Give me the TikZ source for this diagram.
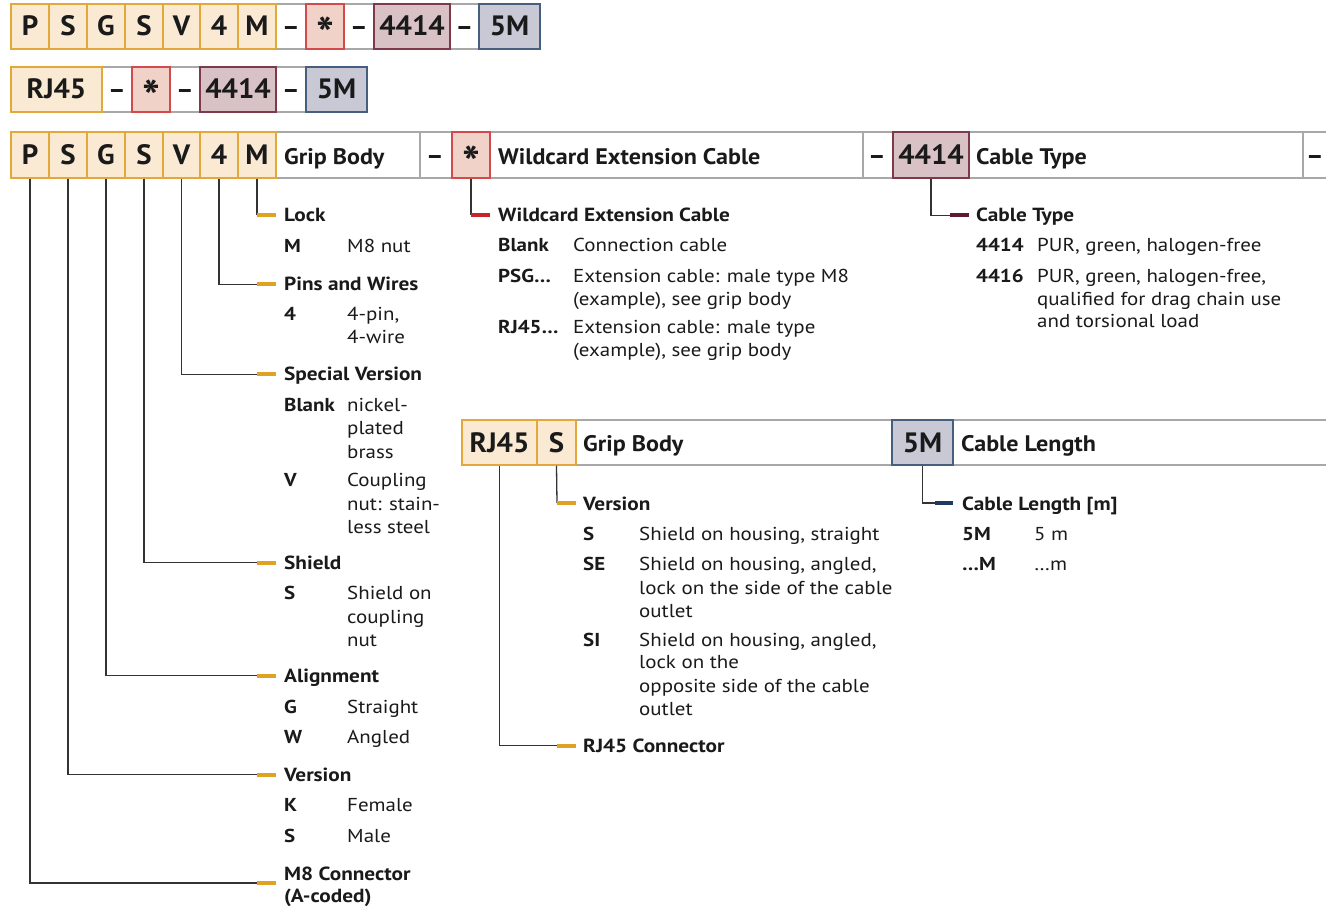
\documentclass[tikz,border=0pt]{standalone}
\usepackage{fontspec}
\setmainfont{PT Sans}
\newfontfamily\fhead{PT Sans}[FakeStretch=1.07]
\newfontfamily\fbody{PT Sans}[FakeStretch=1.12]
\newfontfamily\fcode{PT Sans}[FakeStretch=1.03]
\definecolor{goldB}{HTML}{E3A83A}
\definecolor{goldF}{HTML}{FAEAD4}
\definecolor{redB}{HTML}{D44A4A}
\definecolor{redF}{HTML}{F1D2C8}
\definecolor{mauveB}{HTML}{7E3A4A}
\definecolor{mauveF}{HTML}{D8C2C5}
\definecolor{blueB}{HTML}{475F7E}
\definecolor{blueF}{HTML}{C8C9D5}
\definecolor{cellgray}{HTML}{A8A8A8}
\definecolor{connc}{HTML}{333333}
\definecolor{tkGold}{HTML}{E0A224}
\definecolor{tkRed}{HTML}{C8222A}
\definecolor{tkMaroon}{HTML}{5E1A2E}
\definecolor{tkNavy}{HTML}{1E3A5C}
\definecolor{txt}{HTML}{1A1A1A}
\newcommand{\Tx}[5]{\node[#1] (#2) at (#3,#4) {#5};}
\newcommand{\Ast}{\raisebox{-15pt}{\fontsize{46}{46}\selectfont *}}
\begin{document}
\begin{tikzpicture}[x=1pt,y=-1pt,
  cell/.style={draw=cellgray, fill=white, line width=1.3, inner sep=0, minimum height=46},
  codebox/.style={line width=1.5, inner sep=0, text height=19, text depth=0, font=\fcode\bfseries\fontsize{28}{30}\selectfont, text=txt},
  ybox/.style={codebox, draw=goldB, fill=goldF},
  rbox/.style={codebox, draw=redB, fill=redF},
  mbox/.style={codebox, draw=mauveB, fill=mauveF},
  bbox/.style={codebox, draw=blueB, fill=blueF},
  dashtx/.style={inner sep=0, text height=19, text depth=0, font=\fcode\bfseries\fontsize{26}{28}\selectfont, text=txt},
  head/.style={anchor=base west, inner sep=0, font=\fhead\bfseries\fontsize{22.5}{26}\selectfont, text=txt},
  lab/.style={anchor=base west, inner sep=0, font=\fbody\bfseries\fontsize{19}{23}\selectfont, text=txt},
  code/.style={anchor=base west, inner sep=0, font=\fbody\bfseries\fontsize{18.7}{23}\selectfont, text=txt},
  desc/.style={anchor=base west, inner sep=0, font=\fbody\fontsize{18.7}{23}\selectfont, text=txt},
  conn/.style={draw=connc, line width=1.3},
  tkY/.style={draw=tkGold, line width=4},
  tkR/.style={draw=tkRed, line width=4},
  tkM/.style={draw=tkMaroon, line width=4},
  tkN/.style={draw=tkNavy, line width=4},
]
\useasboundingbox (0,0) rectangle (1326,909);
\fill[white] (0,0) rectangle (1326,909);

% ---------- Row 1 ----------
\node[cell, minimum width=529, minimum height=45] (r1bg) at (275.5,26.5) {};
\node[dashtx] (r1d1) at (291,26.5) {–};
\node[dashtx] (r1d2) at (359,26.5) {–};
\node[dashtx] (r1d3) at (464.5,26.5) {–};
\node[ybox, minimum width=38, minimum height=45] (r1a) at (30,26.5) {P};
\node[ybox, minimum width=38, minimum height=45] (r1b) at (68,26.5) {S};
\node[ybox, minimum width=38, minimum height=45] (r1c) at (106,26.5) {G};
\node[ybox, minimum width=38, minimum height=45] (r1d) at (144,26.5) {S};
\node[ybox, minimum width=37, minimum height=45] (r1e) at (181.5,26.5) {V};
\node[ybox, minimum width=38, minimum height=45] (r1f) at (219,26.5) {4};
\node[ybox, minimum width=38, minimum height=45] (r1g) at (257,26.5) {M};
\node[rbox, minimum width=38, minimum height=45] (r1s) at (325,26.5) {\Ast};
\node[mbox, minimum width=76, minimum height=45] (r1t) at (412,26.5) {4414};
\node[bbox, minimum width=61, minimum height=45] (r1l) at (509.5,26.5) {5M};

% ---------- Row 2 ----------
\node[cell, minimum width=356, minimum height=45] (r2bg) at (189,89.5) {};
\node[dashtx] (r2d1) at (117,89.5) {–};
\node[dashtx] (r2d2) at (185,89.5) {–};
\node[dashtx] (r2d3) at (291,89.5) {–};
\node[ybox, minimum width=91, minimum height=45] (r2a) at (56.5,89.5) {RJ45};
\node[rbox, minimum width=38, minimum height=45] (r2s) at (151,89.5) {\Ast};
\node[mbox, minimum width=76, minimum height=45] (r2t) at (238,89.5) {4414};
\node[bbox, minimum width=61, minimum height=45] (r2l) at (336.5,89.5) {5M};

% ---------- Row 3 (M8 header) ----------
\node[cell, minimum width=144] (c3gb) at (348,155) {};
\node[cell, minimum width=32] (c3d1) at (436,155) {};
\node[cell, minimum width=373] (c3wc) at (676.5,155) {};
\node[cell, minimum width=30] (c3d2) at (878,155) {};
\node[cell, minimum width=334] (c3ct) at (1136,155) {};
\node[cell, minimum width=37] (c3d3) at (1321.5,155) {};
\node[ybox, minimum width=38, minimum height=46] (h3a) at (30,155) {P};
\node[ybox, minimum width=38, minimum height=46] (h3b) at (68,155) {S};
\node[ybox, minimum width=38, minimum height=46] (h3c) at (106,155) {G};
\node[ybox, minimum width=38, minimum height=46] (h3d) at (144,155) {S};
\node[ybox, minimum width=37, minimum height=46] (h3e) at (181.5,155) {V};
\node[ybox, minimum width=38, minimum height=46] (h3f) at (219,155) {4};
\node[ybox, minimum width=38, minimum height=46] (h3g) at (257,155) {M};
\node[rbox, minimum width=38, minimum height=46] (h3s) at (471,155) {\Ast};
\node[mbox, minimum width=76, minimum height=46] (h3t) at (931,155) {4414};
\node[head] (h3gbt) at (284,165) {Grip Body};
\node[dashtx] (h3d1t) at (435,155) {–};
\node[head] (h3wct) at (498,165) {Wildcard Extension Cable};
\node[dashtx] (h3d2t) at (877,155) {–};
\node[head] (h3ctt) at (976,165) {Cable Type};
\node[dashtx] (h3d3t) at (1315,155) {–};

% ---------- RJ45 header ----------
\node[cell, minimum width=316, minimum height=45] (c4gb) at (734,442.5) {};
\node[cell, minimum width=387, minimum height=45] (c4cl) at (1146.5,442.5) {};
\node[ybox, minimum width=75, minimum height=45] (h4a) at (499.5,442.5) {RJ45};
\node[ybox, minimum width=39, minimum height=45] (h4b) at (556.5,442.5) {S};
\node[bbox, minimum width=61, minimum height=45] (h4l) at (922.5,442.5) {5M};
\node[head] (h4gbt) at (583,451) {Grip Body};
\node[head] (h4clt) at (961,451) {Cable Length};

% ---------- Left column (M8) ----------
\coordinate (tMa) at (257,215.5); \coordinate (tMb) at (276,215.5);
\coordinate (t4a) at (257,284.5); \coordinate (t4b) at (276,284.5);
\coordinate (tVa) at (257,374.5); \coordinate (tVb) at (276,374.5);
\coordinate (tSa) at (257,562.5); \coordinate (tSb) at (276,562.5);
\coordinate (tGa) at (257,675.5); \coordinate (tGb) at (276,675.5);
\coordinate (tKa) at (257,774.5); \coordinate (tKb) at (276,774.5);
\coordinate (tPa) at (257,883);   \coordinate (tPb) at (276,883);
\draw[conn] (h3g.south) -- (tMa);
\draw[conn] (h3f.south) |- (t4a);
\draw[conn] (h3e.south) |- (tVa);
\draw[conn] (h3d.south) |- (tSa);
\draw[conn] (h3c.south) |- (tGa);
\draw[conn] (h3b.south) |- (tKa);
\draw[conn] (h3a.south) |- (tPa);
\foreach \n in {M,4,V,S,G,K,P} {\draw[tkY] (t\n a) -- (t\n b);}

\Tx{lab}{l1}{284}{222}{Lock}
\Tx{code}{l1c1}{284}{253}{M}
\Tx{desc}{l1d1}{347}{253}{M8 nut}
\Tx{lab}{l2}{284}{291}{Pins and Wires}
\Tx{code}{l2c1}{284}{321}{4}
\Tx{desc}{l2d1}{347}{321}{4-pin,}
\Tx{desc}{l2d2}{347}{344}{4-wire}
\Tx{lab}{l3}{284}{381}{Special Version}
\Tx{code}{l3c1}{284}{411}{Blank}
\Tx{desc}{l3d1}{347}{411}{nickel-}
\Tx{desc}{l3d2}{347}{435}{plated}
\Tx{desc}{l3d3}{347}{458}{brass}
\Tx{code}{l3c2}{284}{486}{V}
\Tx{desc}{l3d4}{347}{486}{Coupling}
\Tx{desc}{l3d5}{347}{510}{nut: stain-}
\Tx{desc}{l3d6}{347}{533}{less steel}
\Tx{lab}{l4}{284}{569}{Shield}
\Tx{code}{l4c1}{284}{599}{S}
\Tx{desc}{l4d1}{347}{599}{Shield on}
\Tx{desc}{l4d2}{347}{623}{coupling}
\Tx{desc}{l4d3}{347}{646}{nut}
\Tx{lab}{l5}{284}{682}{Alignment}
\Tx{code}{l5c1}{284}{713}{G}
\Tx{desc}{l5d1}{347}{713}{Straight}
\Tx{code}{l5c2}{284}{743}{W}
\Tx{desc}{l5d2}{347}{743}{Angled}
\Tx{lab}{l6}{284}{781}{Version}
\Tx{code}{l6c1}{284}{811}{K}
\Tx{desc}{l6d1}{347}{811}{Female}
\Tx{code}{l6c2}{284}{842}{S}
\Tx{desc}{l6d2}{347}{842}{Male}
\Tx{lab}{l7}{284}{880}{M8 Connector}
\Tx{lab}{l7b}{284}{902}{(A-coded)}

% ---------- Wildcard column ----------
\coordinate (tWa) at (471,215.5); \coordinate (tWb) at (490,215.5);
\draw[conn] (h3s.south) -- (tWa);
\draw[tkR] (tWa) -- (tWb);
\Tx{lab}{w1}{498}{222}{Wildcard Extension Cable}
\Tx{code}{w1c1}{498}{252}{Blank}
\Tx{desc}{w1d1}{573}{252}{Connection cable}
\Tx{code}{w1c2}{498}{283}{PSG…}
\Tx{desc}{w1d2}{573}{283}{Extension cable: male type M8}
\Tx{desc}{w1d3}{573}{305.5}{(example), see grip body}
\Tx{code}{w1c3}{498}{334}{RJ45…}
\Tx{desc}{w1d4}{573}{334}{Extension cable: male type}
\Tx{desc}{w1d5}{573}{357}{(example), see grip body}

% ---------- Cable type column ----------
\coordinate (tTa) at (950,215.5); \coordinate (tTb) at (969,215.5);
\draw[conn] (h3t.south) |- (tTa);
\draw[tkM] (tTa) -- (tTb);
\Tx{lab}{ct1}{976}{222}{Cable Type}
\Tx{code}{ct1c1}{976}{252}{4414}
\Tx{desc}{ct1d1}{1037}{252}{PUR, green, halogen-free}
\Tx{code}{ct1c2}{976}{283}{4416}
\Tx{desc}{ct1d2}{1037}{283}{PUR, green, halogen-free,}
\Tx{desc}{ct1d3}{1037}{305.5}{qualified for drag chain use}
\Tx{desc}{ct1d4}{1037}{328}{and torsional load}

% ---------- RJ45 columns ----------
\coordinate (tRVa) at (557,503); \coordinate (tRVb) at (576,503);
\coordinate (tRCa) at (557,745.5); \coordinate (tRCb) at (576,745.5);
\draw[conn] (h4b.south) -- (tRVa);
\draw[conn] (h4a.south) |- (tRCa);
\draw[tkY] (tRVa) -- (tRVb);
\draw[tkY] (tRCa) -- (tRCb);
\Tx{lab}{rv}{583}{510}{Version}
\Tx{code}{rvc1}{583}{540}{S}
\Tx{desc}{rvd1}{639}{540}{Shield on housing, straight}
\Tx{code}{rvc2}{583}{570.5}{SE}
\Tx{desc}{rvd2}{639}{570.5}{Shield on housing, angled,}
\Tx{desc}{rvd3}{639}{594}{lock on the side of the cable}
\Tx{desc}{rvd4}{639}{617}{outlet}
\Tx{code}{rvc3}{583}{646}{SI}
\Tx{desc}{rvd5}{639}{646}{Shield on housing, angled,}
\Tx{desc}{rvd6}{639}{668.5}{lock on the}
\Tx{desc}{rvd7}{639}{692}{opposite side of the cable}
\Tx{desc}{rvd8}{639}{715}{outlet}
\Tx{lab}{rc}{583}{752}{RJ45 Connector}

% ---------- Cable length column ----------
\coordinate (tLa) at (935,503); \coordinate (tLb) at (953,503);
\draw[conn] (h4l.south) |- (tLa);
\draw[tkN] (tLa) -- (tLb);
\Tx{lab}{cl}{962}{510}{Cable Length [m]}
\Tx{code}{clc1}{962}{540}{5M}
\Tx{desc}{cld1}{1034}{540}{5 m}
\Tx{code}{clc2}{962}{570}{…M}
\Tx{desc}{cld2}{1034}{570}{…m}
\end{tikzpicture}
\end{document}
